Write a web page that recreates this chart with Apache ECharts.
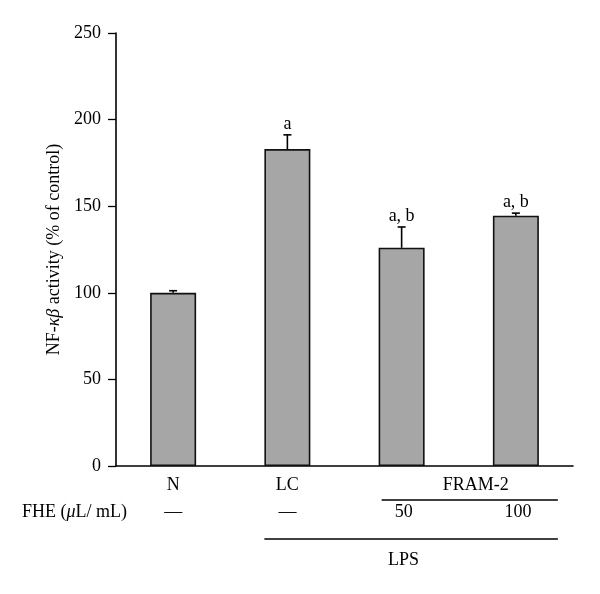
<!DOCTYPE html>
<html>
<head>
<meta charset="utf-8">
<script src="https://cdn.jsdelivr.net/npm/echarts@6/dist/echarts.min.js"></script>
<style>html,body{margin:0;padding:0;background:#fff}#c{width:600px;height:594px}</style>
</head>
<body>
<div id="c"></div>
<script>
const categories = ['N', 'LC', '50', '100'];
const axisLabels = ['N', 'LC', '', ''];
const values = [100, 183, 126, 144.5];
const errors = [1.2, 8.2, 12, 1.5];
const sigLabels = ['', 'a', 'a, b', 'a, b'];
const doseLabels = ['—', '—', '50', '100'];
const yTicks = [0, 50, 100, 150, 200, 250];
const groupLabel = 'FRAM-2';
const lpsLabel = 'LPS';
const rowLabel = 'FHE (μL/ mL)';

const FONT = '"Liberation Serif", "DejaVu Serif", serif';
const FS = 18;
const chart = echarts.init(document.getElementById('c'), null, {renderer: 'canvas'});

const option = {
  animation: false,
  backgroundColor: '#fff',
  grid: {left: 116, right: 27, top: 33, bottom: 128, containLabel: false},
  xAxis: {
    type: 'category',
    data: categories,
    axisLine: {lineStyle: {color: '#000', width: 1.6}},
    axisTick: {show: false},
    axisLabel: {
      formatter: (v, i) => axisLabels[i],
      color: '#000', fontFamily: FONT, fontSize: FS, margin: 10
    }
  },
  yAxis: {
    type: 'value',
    min: yTicks[0], max: yTicks[yTicks.length - 1], interval: 50,
    name: 'NF-{i|κβ} activity (% of control)',
    nameLocation: 'middle',
    nameGap: 50,
    nameTextStyle: {
      color: '#000', fontFamily: FONT, fontSize: FS,
      rich: {i: {fontStyle: 'italic', fontFamily: FONT, fontSize: FS, color: '#000'}}
    },
    axisLine: {show: true, lineStyle: {color: '#000', width: 1.6}},
    axisTick: {show: true, length: 8, lineStyle: {color: '#000', width: 1.3}},
    splitLine: {show: false},
    axisLabel: {color: '#000', fontFamily: FONT, fontSize: FS, margin: 15}
  },
  series: [
    {
      type: 'bar',
      data: values,
      barWidth: 46,
      itemStyle: {color: '#a6a6a6', borderColor: '#111', borderWidth: 1.6},
      z: 2
    },
    {
      type: 'custom',
      z: 3,
      data: categories.map((c, i) => [i, values[i], errors[i]]),
      renderItem: function (params, api) {
        const i = api.value(0);
        const v = api.value(1);
        const e = api.value(2);
        const base = api.coord([i, v]);
        const top = api.coord([i, v + e]);
        const children = [
          {type: 'line', shape: {x1: top[0], y1: base[1], x2: top[0], y2: top[1]}, style: {stroke: '#000', lineWidth: 1.6}},
          {type: 'line', shape: {x1: top[0] - 4, y1: top[1], x2: top[0] + 4, y2: top[1]}, style: {stroke: '#000', lineWidth: 1.6}}
        ];
        const s = sigLabels[i];
        if (s) {
          children.push({
            type: 'text',
            style: {
              text: s, x: top[0], y: top[1] - 11,
              align: 'center', verticalAlign: 'middle',
              font: FS + 'px ' + FONT, fill: '#000'
            }
          });
        }
        return {type: 'group', children: children};
      }
    }
  ]
};
chart.setOption(option);

// annotation rows below axis, positioned from category pixel centres
const cx = categories.map((c, i) => chart.convertToPixel({xAxisIndex: 0}, i));
const y0 = chart.convertToPixel({yAxisIndex: 0}, 0);
const halfBar = 23;
const txt = (text, x, y) => ({
  type: 'text', x: x, y: y,
  style: {text: text, align: 'center', verticalAlign: 'middle', font: FS + 'px ' + FONT, fill: '#000'}
});
const line = (x1, y1, x2) => ({type: 'line', shape: {x1: x1, y1: y1, x2: x2, y2: y1}, style: {stroke: '#000', lineWidth: 1.4}});
const lineEnd = cx[3] + halfBar + 19;
const graphics = [];
graphics.push(txt(groupLabel, (cx[2] + cx[3]) / 2 + 17, y0 + 19));
graphics.push(line(cx[2] - 20, y0 + 34, lineEnd));
graphics.push({
  type: 'text', x: 22, y: y0 + 46,
  style: {text: 'FHE ({i|μ}L/ mL)', align: 'left', verticalAlign: 'middle', font: FS + 'px ' + FONT, fill: '#000',
    rich: {i: {fontStyle: 'italic', fontFamily: FONT, fontSize: FS, fill: '#000'}}}
});
doseLabels.forEach((d, i) => graphics.push(txt(d, cx[i] + (i >= 2 ? 2 : 0), y0 + 46)));
graphics.push(line(cx[1] - halfBar, y0 + 73, lineEnd));
graphics.push(txt(lpsLabel, cx[2] + 2, y0 + 94));
chart.setOption({graphic: graphics});
</script>
</body>
</html>
